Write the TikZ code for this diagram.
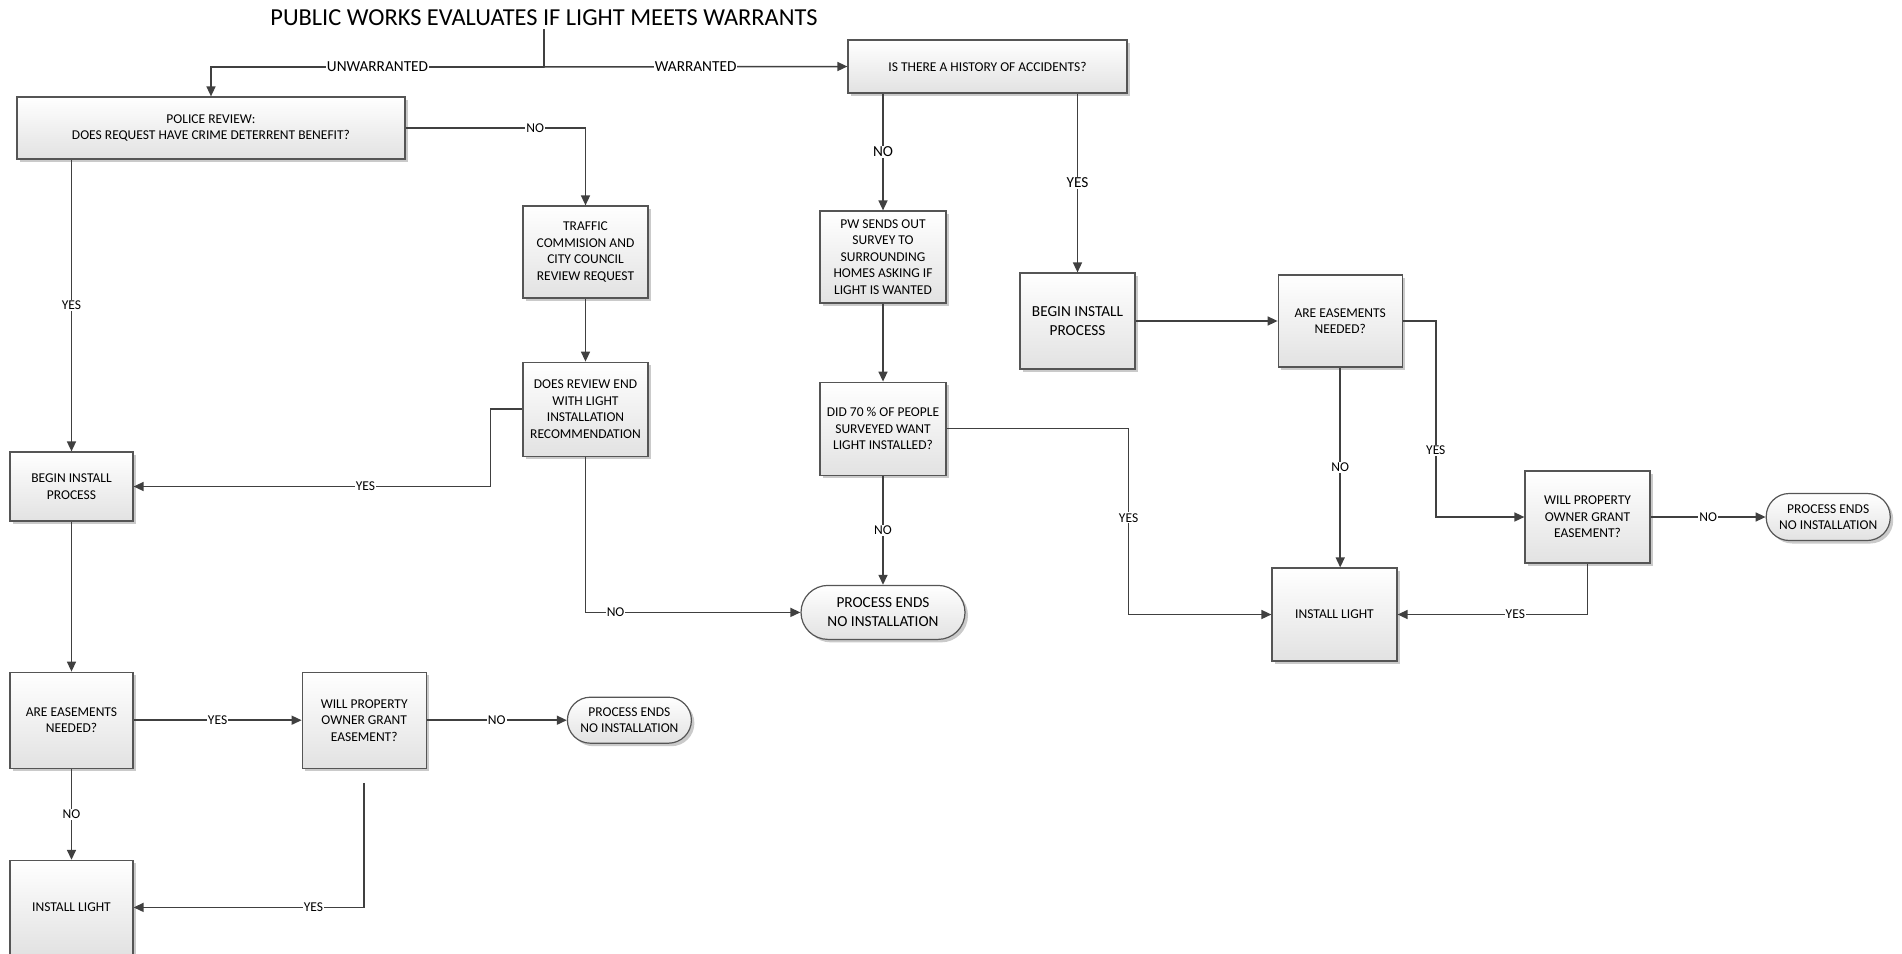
\documentclass[tikz,border=0pt]{standalone}
\usepackage{fontspec}
\setmainfont{Carlito}
\usetikzlibrary{arrows.meta, positioning, shadows}
\definecolor{linegray}{HTML}{404040}
\definecolor{boxedge}{HTML}{555555}
\definecolor{boxshade}{HTML}{E2E2E2}
\newcommand{\smalltxt}{\fontsize{13.5}{16.5}\selectfont}
\newcommand{\bigtxt}{\fontsize{15.3}{19}\selectfont}

\begin{document}
\begin{tikzpicture}[x=1pt, y=-1pt,
        box/.style={draw=boxedge, line width=1.2pt, top color=white, bottom color=boxshade,
          drop shadow={shadow xshift=3pt, shadow yshift=-3pt, fill=black!35, opacity=0.6},
          align=center, inner sep=0pt, font=\smalltxt, minimum width=124pt, minimum height=93pt},
        endbox/.style={box, rounded corners=23pt, minimum height=46pt},
        arrow/.style={line width=1.5pt, draw=linegray, -{Triangle[length=10pt, width=9pt]}},
        lbl/.style={fill=white, inner sep=1pt, font=\smalltxt}
      ]
        \useasboundingbox (0,0) rectangle (1902,953);

        \node (title) [inner sep=3pt] at (544,18) {\fontsize{24.4}{28}\selectfont PUBLIC WORKS EVALUATES IF LIGHT MEETS WARRANTS};
        \coordinate (fork) at (544,67);

        % Unwarranted branch
        \node (unw_police) [box, minimum width=388pt, minimum height=62pt] at (211,128) {POLICE REVIEW:\\DOES REQUEST HAVE CRIME DETERRENT BENEFIT?};
        \node (unw_traffic) [box, minimum width=125pt, minimum height=92pt] at (585.5,252) {TRAFFIC\\COMMISION AND\\CITY COUNCIL\\REVIEW REQUEST};
        \node (unw_review) [box, minimum width=125pt, minimum height=94pt, below=63pt of unw_traffic] {DOES REVIEW END\\WITH LIGHT\\INSTALLATION\\RECOMMENDATION};
        \node (unw_begin) [box, minimum width=123pt, minimum height=69pt] at (71.5,486.5) {BEGIN INSTALL\\PROCESS};
        \node (unw_easement) [box, minimum width=123pt, minimum height=96pt, below=150pt of unw_begin] {ARE EASEMENTS\\NEEDED?};
        \node (unw_owner) [box, minimum height=96pt, right=168pt of unw_easement] {WILL PROPERTY\\OWNER GRANT\\EASEMENT?};
        \node (unw_end) [endbox, right=140pt of unw_owner] {PROCESS ENDS\\NO INSTALLATION};
        \node (unw_install) [box, minimum width=123pt, minimum height=94pt, below=91pt of unw_easement] {INSTALL LIGHT};
        \coordinate (unw_gap) at ([yshift=-14pt]unw_owner.south);

        % Warranted branch
        \node (war_history) [box, minimum width=279pt, minimum height=53pt] at (987.5,66.5) {IS THERE A HISTORY OF ACCIDENTS?};
        \node (war_survey) [box, minimum width=126pt, minimum height=92pt] at (883,257) {PW SENDS OUT\\SURVEY TO\\SURROUNDING\\HOMES ASKING IF\\LIGHT IS WANTED};
        \node (war_vote) [box, minimum width=126pt, below=78pt of war_survey] {DID 70 \% OF PEOPLE\\SURVEYED WANT\\LIGHT INSTALLED?};
        \node (no_install) [endbox, font=\bigtxt, minimum width=164pt, minimum height=54pt, rounded corners=27pt, below=109pt of war_vote] {PROCESS ENDS\\NO INSTALLATION};
        \node (war_begin) [box, font=\bigtxt, minimum width=115pt, minimum height=96pt] at (1077.5,321) {BEGIN INSTALL\\PROCESS};
        \node (war_easement) [box, minimum height=92pt, right=142pt of war_begin] {ARE EASEMENTS\\NEEDED?};
        \node (war_install) [box, minimum width=125pt] at (1334.5,614.5) {INSTALL LIGHT};
        \node (war_owner) [box, minimum width=125pt, minimum height=92pt] at (1587.5,517) {WILL PROPERTY\\OWNER GRANT\\EASEMENT?};
        \node (war_end) [endbox, minimum height=47pt, right=115pt of war_owner] {PROCESS ENDS\\NO INSTALLATION};

        % Arrows for the split
        \draw [line width=1.5pt, draw=linegray] (title.south) -- (fork);
        \draw [arrow] (fork) -| node[lbl, font=\bigtxt, pos=0.25] {UNWARRANTED} (unw_police.north);
        \draw [arrow] (fork) -- node[lbl, font=\bigtxt] {WARRANTED} (war_history.west);

        % Arrows for unwarranted branch
        \draw [arrow] (unw_police.east) -| node[lbl, pos=0.36] {NO} (unw_traffic.north);
        \draw [arrow] (unw_police.south -| unw_begin.north) -- node[lbl] {YES} (unw_begin.north);
        \draw [arrow] (unw_traffic) -- (unw_review);
        \draw [arrow] (unw_review.west) -- ++(-32,0) |- node[lbl, pos=0.675] {YES} (unw_begin.east);
        \draw [arrow] (unw_review.south) |- node[lbl, pos=0.57] {NO} (no_install.west);
        \draw [arrow] (unw_begin) -- (unw_easement);
        \draw [arrow] (unw_easement) -- node[lbl] {YES} (unw_owner);
        \draw [arrow] (unw_owner) -- node[lbl] {NO} (unw_end);
        \draw [arrow] (unw_easement) -- node[lbl] {NO} (unw_install);
        \draw [arrow] (unw_gap) |- node[lbl, pos=0.61] {YES} (unw_install.east);

        % Arrows for warranted branch
        \draw [arrow] (war_history.south -| war_survey.north) -- node[lbl, font=\bigtxt] {NO} (war_survey.north);
        \draw [arrow] (war_history.south -| war_begin.north) -- node[lbl, font=\bigtxt] {YES} (war_begin.north);
        \draw [arrow] (war_survey) -- (war_vote);
        \draw [arrow] (war_vote) -- node[lbl] {NO} (no_install);
        \draw [arrow] (war_vote.east) -- ++(182,0) |- node[lbl, pos=0.24] {YES} (war_install.west);
        \draw [arrow] (war_begin) -- (war_easement);
        \draw [arrow] (war_easement.south) -- node[lbl] {NO} (war_easement.south |- war_install.north);
        \draw [arrow] (war_easement.east) -- ++(33,0) |- node[lbl, pos=0.33] {YES} (war_owner.west);
        \draw [arrow] (war_owner) -- node[lbl] {NO} (war_end);
        \draw [arrow] (war_owner.south) |- node[lbl, pos=0.69] {YES} (war_install.east);
      \end{tikzpicture}
\end{document}
